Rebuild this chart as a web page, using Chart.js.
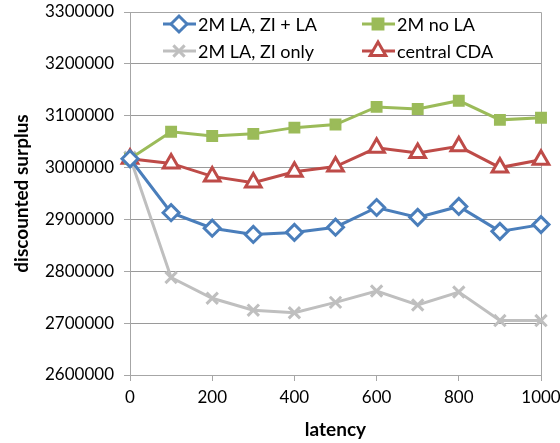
<!DOCTYPE html>
<html>
<head>
<meta charset="utf-8">
<script src="https://cdn.jsdelivr.net/npm/chart.js@4"></script>
<style>
  html, body { margin: 0; padding: 0; background: #fff; }
  #wrap { width: 560px; height: 443px; }
</style>
</head>
<body>
<div id="wrap"><canvas id="surplusChart"></canvas></div>
<script>
// values
const latency = [0, 100, 200, 300, 400, 500, 600, 700, 800, 900, 1000];
const laZiLa = [3017000, 2913000, 2883000, 2871000, 2875000, 2885000, 2923000, 2904000, 2925000, 2877000, 2890000];
const noLa = [3017000, 3069000, 3061000, 3065000, 3077000, 3083000, 3117000, 3113000, 3129000, 3092000, 3096000];
const laZiOnly = [3020000, 2788000, 2748000, 2725000, 2720000, 2740000, 2762000, 2735000, 2760000, 2705000, 2705000];
const centralCda = [3017000, 3008000, 2983000, 2971000, 2992000, 3002000, 3038000, 3028000, 3041000, 3000000, 3015000];

const FONT = 'Lato, "Open Sans", sans-serif';

function pairs(vals) {
    return latency.map((x, i) => ({ x: x, y: vals[i] }));
}

// 2x2 legend inside the plot, like the spreadsheet one
const gridLegend = {
    id: 'gridLegend',
    afterDatasetsDraw(chart) {
        const ctx = chart.ctx;
        const area = chart.chartArea;
        const cols = [area.left + 33, area.left + 232];
        const rows = [area.top + 12, area.top + 39];
        ctx.save();
        chart.data.datasets.forEach((ds, k) => {
            const x = cols[k % 2];
            const y = rows[Math.floor(k / 2)];
            ctx.strokeStyle = ds.borderColor;
            ctx.lineWidth = 3;
            ctx.beginPath();
            ctx.moveTo(x, y);
            ctx.lineTo(x + 33, y);
            ctx.stroke();
            ctx.fillStyle = ds.pointBackgroundColor;
            ctx.strokeStyle = ds.borderColor;
            Chart.helpers.drawPoint(ctx, {
                pointStyle: ds.pointStyle,
                radius: ds.pointRadius,
                borderWidth: ds.pointBorderWidth,
                rotation: 0
            }, x + 16, y);
            ctx.fillStyle = '#000';
            ctx.font = '18px ' + FONT;
            ctx.textBaseline = 'middle';
            ctx.textAlign = 'left';
            ctx.fillText(ds.label, x + 35, y + 1);
        });
        ctx.restore();
    }
};

const plotBox = {
    id: 'plotBox',
    beforeDatasetsDraw(chart) {
        const a = chart.chartArea;
        const ctx = chart.ctx;
        ctx.save();
        ctx.strokeStyle = '#a6a6a6';
        ctx.lineWidth = 1;
        ctx.beginPath();
        ctx.moveTo(a.left, a.top + 0.5);
        ctx.lineTo(a.right + 0.5, a.top + 0.5);
        ctx.lineTo(a.right + 0.5, a.bottom);
        ctx.stroke();
        ctx.restore();
    }
};

const ctx = document.getElementById('surplusChart').getContext('2d');
new Chart(ctx, {
    type: 'line',
    data: {
        datasets: [
            {
                label: '2M LA, ZI + LA',
                data: pairs(laZiLa),
                borderColor: '#4a7ebb',
                pointBackgroundColor: '#ffffff',
                pointStyle: 'rectRot',
                pointRadius: 8,
                pointBorderWidth: 3,
                borderWidth: 3,
                tension: 0,
                clip: false
            },
            {
                label: '2M no LA',
                data: pairs(noLa),
                borderColor: '#9bbb59',
                pointBackgroundColor: '#9bbb59',
                pointStyle: 'rect',
                pointRadius: 7,
                pointBorderWidth: 2,
                borderWidth: 3,
                tension: 0,
                clip: false
            },
            {
                label: '2M LA, ZI only',
                data: pairs(laZiOnly),
                borderColor: '#bfbfbf',
                pointBackgroundColor: '#bfbfbf',
                pointStyle: 'crossRot',
                pointRadius: 8,
                pointBorderWidth: 3,
                borderWidth: 3,
                tension: 0,
                clip: false
            },
            {
                label: 'central CDA',
                data: pairs(centralCda),
                borderColor: '#be4b48',
                pointBackgroundColor: '#ffffff',
                pointStyle: 'triangle',
                pointRadius: 9,
                pointBorderWidth: 3,
                borderWidth: 3,
                tension: 0,
                clip: false
            }
        ]
    },
    options: {
        responsive: true,
        maintainAspectRatio: false,
        animation: false,
        layout: { padding: { top: 11, right: 19, left: 10, bottom: 0 } },
        plugins: {
            legend: { display: false },
            tooltip: { enabled: false }
        },
        scales: {
            x: {
                type: 'linear',
                min: 0,
                max: 1000,
                afterFit(scale) {
                    scale.height = 68;
                    scale.paddingLeft = 0;
                    scale.paddingRight = 0;
                },
                border: { color: '#a6a6a6' },
                grid: {
                    drawOnChartArea: false,
                    tickLength: 6,
                    tickColor: '#a6a6a6'
                },
                ticks: {
                    stepSize: 200,
                    color: '#000',
                    font: { family: FONT, size: 17 },
                    padding: 6,
                    callback: v => String(v)
                },
                title: {
                    display: true,
                    text: 'latency',
                    color: '#000',
                    font: { family: FONT, size: 19, weight: 'bold' },
                    padding: { top: 2, bottom: 2 }
                }
            },
            y: {
                min: 2600000,
                max: 3300000,
                afterFit(scale) {
                    scale.width = 120;
                    scale.paddingTop = 0;
                    scale.paddingBottom = 0;
                },
                border: { color: '#a6a6a6' },
                grid: {
                    color: '#9a9a9a',
                    borderDash: [2, 2],
                    tickBorderDash: [],
                    tickColor: '#a6a6a6',
                    tickLength: 6
                },
                ticks: {
                    stepSize: 100000,
                    color: '#000',
                    font: { family: FONT, size: 17 },
                    padding: 10,
                    callback: v => String(v)
                },
                title: {
                    display: true,
                    text: 'discounted surplus',
                    color: '#000',
                    font: { family: FONT, size: 19, weight: 'bold' },
                    padding: { top: 0, bottom: 4 }
                }
            }
        }
    },
    plugins: [plotBox, gridLegend]
});
</script>
</body>
</html>
